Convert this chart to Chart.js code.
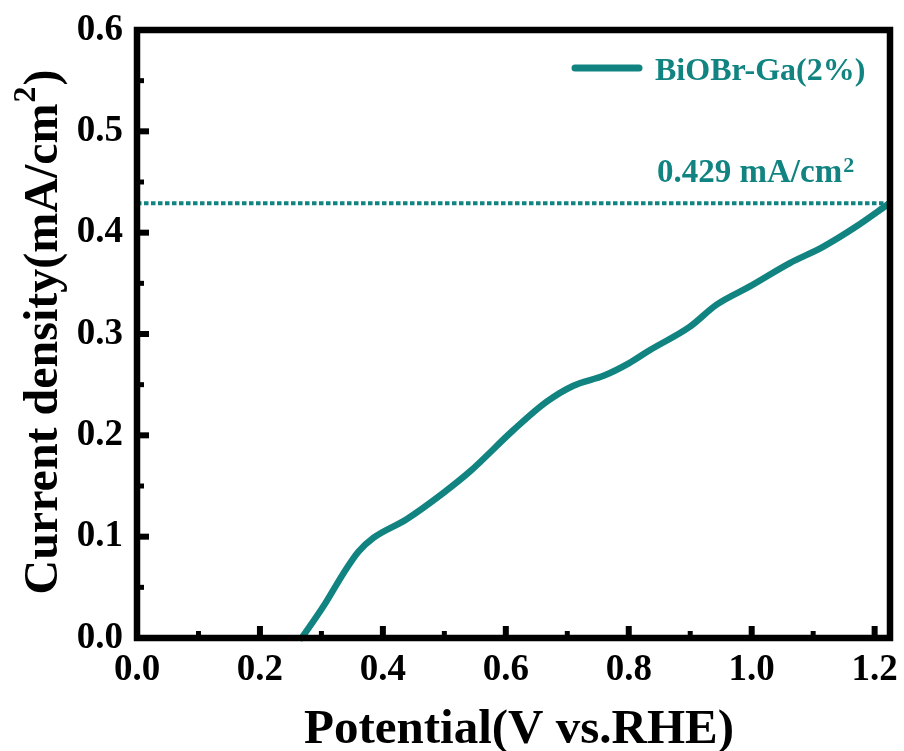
<!DOCTYPE html>
<html>
<head>
<meta charset="utf-8">
<script src="https://cdn.jsdelivr.net/npm/chart.js@4/dist/chart.umd.min.js"></script>
<style>
html,body{margin:0;padding:0;background:#fff;}
#wrap{width:904px;height:751px;}
</style>
</head>
<body>
<div id="wrap"><canvas id="c" width="904" height="751"></canvas></div>
<script>
// ---- data ----
const potential = [0.268, 0.303, 0.336, 0.360, 0.385, 0.438, 0.498, 0.541, 0.612, 0.666, 0.710, 0.760, 0.800, 0.834, 0.899, 0.943, 0.997, 1.062, 1.116, 1.170, 1.224];
const current   = [0.000, 0.031, 0.064, 0.085, 0.099, 0.117, 0.143, 0.164, 0.205, 0.233, 0.249, 0.259, 0.271, 0.284, 0.307, 0.329, 0.347, 0.370, 0.386, 0.406, 0.429];
const seriesName = 'BiOBr-Ga(2%)';
const refLevel = 0.429;
const xRange = [0, 1.225];
const yRange = [0, 0.6];
const xTickStep = 0.2;
const yTickStep = 0.1;
const xTitle = 'Potential(V vs.RHE)';
const yTitleMain = 'Current density(mA/cm';
const yTitleSup = '2';
const yTitleEnd = ')';
const refLabelMain = refLevel.toFixed(3) + ' mA/cm';
const refLabelSup = '2';

const TEAL = '#118482';
const SERIF = '"Liberation Serif", "Times New Roman", "DejaVu Serif", serif';

function noPad(s) { s.paddingTop = 0; s.paddingBottom = 0; s.paddingLeft = 0; s.paddingRight = 0; }

const framePlugin = {
  id: 'frame',
  afterDatasetsDraw(chart) {
    const ctx = chart.ctx;
    const a = chart.chartArea;
    const xs = chart.scales.x, ys = chart.scales.y;
    ctx.save();
    ctx.strokeStyle = '#000';
    ctx.fillStyle = '#000';
    ctx.lineCap = 'butt';
    for (let v = xRange[0]; v <= xRange[1] + 1e-9; v += xTickStep / 2) {
      const major = Math.abs(Math.round(v / xTickStep) * xTickStep - v) < 1e-6;
      const px = xs.getPixelForValue(v);
      ctx.lineWidth = major ? 6 : 5;
      ctx.beginPath();
      ctx.moveTo(px, a.bottom);
      ctx.lineTo(px, a.bottom - (major ? 12 : 7));
      ctx.stroke();
    }
    for (let v = yRange[0]; v <= yRange[1] + 1e-9; v += yTickStep / 2) {
      const major = Math.abs(Math.round(v / yTickStep) * yTickStep - v) < 1e-6;
      const py = ys.getPixelForValue(v);
      ctx.lineWidth = major ? 6 : 5;
      ctx.beginPath();
      ctx.moveTo(a.left, py);
      ctx.lineTo(a.left + (major ? 12 : 7), py);
      ctx.stroke();
    }
    ctx.lineWidth = 6.5;
    ctx.lineJoin = 'miter';
    ctx.strokeRect(a.left, a.top, a.right - a.left, a.bottom - a.top);

    // legend
    ctx.strokeStyle = TEAL;
    ctx.lineWidth = 7;
    ctx.lineCap = 'round';
    ctx.beginPath();
    ctx.moveTo(575, 68);
    ctx.lineTo(639, 68);
    ctx.stroke();
    ctx.fillStyle = TEAL;
    ctx.textBaseline = 'alphabetic';
    ctx.textAlign = 'left';
    ctx.font = 'bold 32px ' + SERIF;
    ctx.fillText(seriesName, 655, 80);

    // reference label
    const ry = ys.getPixelForValue(refLevel);
    ctx.font = 'bold 33px ' + SERIF;
    ctx.fillText(refLabelMain, 657, ry - 21);
    const w1 = ctx.measureText(refLabelMain).width;
    ctx.font = 'bold 22px ' + SERIF;
    ctx.fillText(refLabelSup, 657 + w1 + 1, ry - 31);

    // axis titles
    ctx.fillStyle = '#000';
    ctx.font = 'bold 49px ' + SERIF;
    ctx.textAlign = 'center';
    ctx.fillText(xTitle, 519, 743);

    ctx.save();
    ctx.translate(41, 332);
    ctx.rotate(-Math.PI / 2);
    ctx.textAlign = 'left';
    ctx.font = 'bold 48px ' + SERIF;
    const wm = ctx.measureText(yTitleMain).width;
    const we = ctx.measureText(yTitleEnd).width;
    ctx.font = 'bold 32px ' + SERIF;
    const ws = ctx.measureText(yTitleSup).width;
    const total = wm + ws + we + 2;
    let x0 = -total / 2;
    ctx.font = 'bold 48px ' + SERIF;
    ctx.fillText(yTitleMain, x0, 16);
    ctx.font = 'bold 32px ' + SERIF;
    ctx.fillText(yTitleSup, x0 + wm + 1, -6);
    ctx.font = 'bold 48px ' + SERIF;
    ctx.fillText(yTitleEnd, x0 + wm + ws + 2, 16);
    ctx.restore();

    ctx.restore();
  }
};

const points = potential.map((p, i) => ({x: p, y: current[i]}));

new Chart(document.getElementById('c'), {
  type: 'line',
  data: {
    datasets: [
      {
        label: 'ref',
        data: [{x: xRange[0], y: refLevel}, {x: xRange[1], y: refLevel}],
        borderColor: TEAL,
        borderWidth: 4,
        borderDash: [4.5, 2.5],
        pointRadius: 0,
        fill: false,
        clip: false
      },
      {
        label: seriesName,
        data: points,
        borderColor: TEAL,
        borderWidth: 6.5,
        pointRadius: 0,
        fill: false,
        cubicInterpolationMode: 'monotone',
        borderCapStyle: 'round',
        clip: false
      }
    ]
  },
  options: {
    responsive: false,
    animation: false,
    events: [],
    layout: { padding: { top: 30, right: 14, left: 0, bottom: 0 } },
    plugins: { legend: { display: false }, tooltip: { enabled: false } },
    scales: {
      x: {
        type: 'linear',
        min: xRange[0], max: xRange[1],
        grid: { display: false, drawTicks: false },
        border: { display: false },
        afterFit(s) { s.height = 113; noPad(s); },
        ticks: {
          stepSize: xTickStep,
          includeBounds: false,
          padding: 10,
          color: '#000',
          maxRotation: 0,
          autoSkip: false,
          font: { family: SERIF, size: 37, weight: 'bold' },
          callback: v => v.toFixed(1)
        }
      },
      y: {
        type: 'linear',
        min: yRange[0], max: yRange[1],
        grid: { display: false, drawTicks: false },
        border: { display: false },
        afterFit(s) { s.width = 137; noPad(s); },
        ticks: {
          stepSize: yTickStep,
          includeBounds: false,
          padding: 14,
          color: '#000',
          font: { family: SERIF, size: 37, weight: 'bold' },
          callback: v => v.toFixed(1)
        }
      }
    }
  },
  plugins: [framePlugin]
});
</script>
</body>
</html>
